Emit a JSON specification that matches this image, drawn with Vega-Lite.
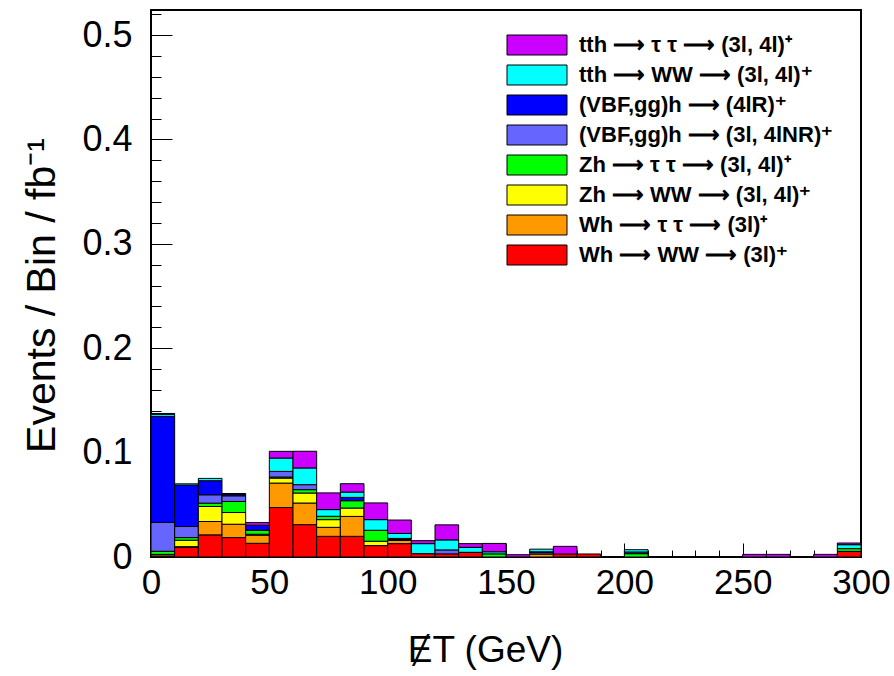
{
  "$schema": "https://vega.github.io/schema/vega-lite/v6.json",
  "width": 710,
  "height": 547,
  "autosize": {"type": "none"},
  "padding": {"left": 151, "top": 10, "right": 33, "bottom": 119},
  "background": "white",
  "config": {
    "view": {"stroke": "black", "strokeWidth": 2},
    "font": "Liberation Sans",
    "axis": {"labelColor": "black", "titleColor": "black", "tickColor": "black", "grid": false, "domain": false}
  },
  "data": {
    "values": [
      {"b": 0, "e": 10, "o": 1, "v": 0.001},
      {"b": 0, "e": 10, "o": 2, "v": 0.0015},
      {"b": 0, "e": 10, "o": 4, "v": 0.003},
      {"b": 0, "e": 10, "o": 5, "v": 0.0276},
      {"b": 0, "e": 10, "o": 6, "v": 0.1016},
      {"b": 0, "e": 10, "o": 7, "v": 0.002},
      {"b": 0, "e": 10, "o": 8, "v": 0.0008},
      {"b": 10, "e": 20, "o": 1, "v": 0.0094},
      {"b": 10, "e": 20, "o": 2, "v": 0.0005},
      {"b": 10, "e": 20, "o": 3, "v": 0.0062},
      {"b": 10, "e": 20, "o": 4, "v": 0.0025},
      {"b": 10, "e": 20, "o": 5, "v": 0.0106},
      {"b": 10, "e": 20, "o": 6, "v": 0.0397},
      {"b": 10, "e": 20, "o": 7, "v": 0.0012},
      {"b": 20, "e": 30, "o": 1, "v": 0.0212},
      {"b": 20, "e": 30, "o": 2, "v": 0.0128},
      {"b": 20, "e": 30, "o": 3, "v": 0.0144},
      {"b": 20, "e": 30, "o": 4, "v": 0.0032},
      {"b": 20, "e": 30, "o": 5, "v": 0.008},
      {"b": 20, "e": 30, "o": 6, "v": 0.0135},
      {"b": 20, "e": 30, "o": 7, "v": 0.0022},
      {"b": 30, "e": 40, "o": 1, "v": 0.0186},
      {"b": 30, "e": 40, "o": 2, "v": 0.0128},
      {"b": 30, "e": 40, "o": 3, "v": 0.0112},
      {"b": 30, "e": 40, "o": 4, "v": 0.0106},
      {"b": 30, "e": 40, "o": 5, "v": 0.0054},
      {"b": 30, "e": 40, "o": 6, "v": 0.0016},
      {"b": 30, "e": 40, "o": 8, "v": 0.0006},
      {"b": 40, "e": 50, "o": 1, "v": 0.0131},
      {"b": 40, "e": 50, "o": 2, "v": 0.0077},
      {"b": 40, "e": 50, "o": 3, "v": 0.001},
      {"b": 40, "e": 50, "o": 4, "v": 0.0038},
      {"b": 40, "e": 50, "o": 6, "v": 0.0048},
      {"b": 40, "e": 50, "o": 8, "v": 0.0026},
      {"b": 50, "e": 60, "o": 1, "v": 0.0474},
      {"b": 50, "e": 60, "o": 2, "v": 0.0234},
      {"b": 50, "e": 60, "o": 3, "v": 0.0048},
      {"b": 50, "e": 60, "o": 4, "v": 0.001},
      {"b": 50, "e": 60, "o": 5, "v": 0.0054},
      {"b": 50, "e": 60, "o": 7, "v": 0.0128},
      {"b": 50, "e": 60, "o": 8, "v": 0.0064},
      {"b": 60, "e": 70, "o": 1, "v": 0.031},
      {"b": 60, "e": 70, "o": 2, "v": 0.0207},
      {"b": 60, "e": 70, "o": 3, "v": 0.0096},
      {"b": 60, "e": 70, "o": 4, "v": 0.0032},
      {"b": 60, "e": 70, "o": 5, "v": 0.0048},
      {"b": 60, "e": 70, "o": 7, "v": 0.016},
      {"b": 60, "e": 70, "o": 8, "v": 0.016},
      {"b": 70, "e": 80, "o": 1, "v": 0.0198},
      {"b": 70, "e": 80, "o": 2, "v": 0.0086},
      {"b": 70, "e": 80, "o": 3, "v": 0.0074},
      {"b": 70, "e": 80, "o": 4, "v": 0.0032},
      {"b": 70, "e": 80, "o": 7, "v": 0.0064},
      {"b": 70, "e": 80, "o": 8, "v": 0.016},
      {"b": 80, "e": 90, "o": 1, "v": 0.0198},
      {"b": 80, "e": 90, "o": 2, "v": 0.0191},
      {"b": 80, "e": 90, "o": 3, "v": 0.008},
      {"b": 80, "e": 90, "o": 4, "v": 0.007},
      {"b": 80, "e": 90, "o": 6, "v": 0.0032},
      {"b": 80, "e": 90, "o": 7, "v": 0.0051},
      {"b": 80, "e": 90, "o": 8, "v": 0.008},
      {"b": 90, "e": 100, "o": 1, "v": 0.0109},
      {"b": 90, "e": 100, "o": 3, "v": 0.0042},
      {"b": 90, "e": 100, "o": 4, "v": 0.0105},
      {"b": 90, "e": 100, "o": 7, "v": 0.0102},
      {"b": 90, "e": 100, "o": 8, "v": 0.016},
      {"b": 100, "e": 110, "o": 1, "v": 0.0128},
      {"b": 100, "e": 110, "o": 2, "v": 0.003},
      {"b": 100, "e": 110, "o": 3, "v": 0.001},
      {"b": 100, "e": 110, "o": 4, "v": 0.001},
      {"b": 100, "e": 110, "o": 7, "v": 0.0048},
      {"b": 100, "e": 110, "o": 8, "v": 0.0128},
      {"b": 110, "e": 120, "o": 1, "v": 0.0032},
      {"b": 110, "e": 120, "o": 7, "v": 0.0096},
      {"b": 110, "e": 120, "o": 8, "v": 0.0029},
      {"b": 120, "e": 130, "o": 1, "v": 0.003},
      {"b": 120, "e": 130, "o": 5, "v": 0.0038},
      {"b": 120, "e": 130, "o": 7, "v": 0.0096},
      {"b": 120, "e": 130, "o": 8, "v": 0.0144},
      {"b": 130, "e": 140, "o": 1, "v": 0.0045},
      {"b": 130, "e": 140, "o": 7, "v": 0.0048},
      {"b": 130, "e": 140, "o": 8, "v": 0.0035},
      {"b": 140, "e": 150, "o": 4, "v": 0.003},
      {"b": 140, "e": 150, "o": 7, "v": 0.002},
      {"b": 140, "e": 150, "o": 8, "v": 0.008},
      {"b": 150, "e": 160, "o": 8, "v": 0.0022},
      {"b": 160, "e": 170, "o": 2, "v": 0.0028},
      {"b": 160, "e": 170, "o": 5, "v": 0.0014},
      {"b": 160, "e": 170, "o": 6, "v": 0.0008},
      {"b": 160, "e": 170, "o": 7, "v": 0.0025},
      {"b": 170, "e": 180, "o": 1, "v": 0.0029},
      {"b": 170, "e": 180, "o": 8, "v": 0.0073},
      {"b": 180, "e": 190, "o": 1, "v": 0.0029},
      {"b": 200, "e": 210, "o": 4, "v": 0.0032},
      {"b": 200, "e": 210, "o": 5, "v": 0.0016},
      {"b": 200, "e": 210, "o": 7, "v": 0.0022},
      {"b": 250, "e": 260, "o": 8, "v": 0.0025},
      {"b": 260, "e": 270, "o": 8, "v": 0.0025},
      {"b": 280, "e": 290, "o": 8, "v": 0.0025},
      {"b": 290, "e": 300, "o": 1, "v": 0.0054},
      {"b": 290, "e": 300, "o": 4, "v": 0.0026},
      {"b": 290, "e": 300, "o": 7, "v": 0.0038},
      {"b": 290, "e": 300, "o": 8, "v": 0.0016}
    ]
  },
  "transform": [
    {
      "lookup": "o",
      "from": {
        "data": {
          "values": [
            {"o": 1, "s": "Wh ⟶ WW ⟶ (3l)⁺"},
            {"o": 2, "s": "Wh ⟶ τ τ ⟶ (3l)⁺"},
            {"o": 3, "s": "Zh ⟶ WW ⟶ (3l, 4l)⁺"},
            {"o": 4, "s": "Zh ⟶ τ τ ⟶ (3l, 4l)⁺"},
            {"o": 5, "s": "(VBF,gg)h ⟶ (3l, 4lNR)⁺"},
            {"o": 6, "s": "(VBF,gg)h ⟶ (4lR)⁺"},
            {"o": 7, "s": "tth ⟶ WW ⟶ (3l, 4l)⁺"},
            {"o": 8, "s": "tth ⟶ τ τ ⟶ (3l, 4l)⁺"}
          ]
        },
        "key": "o",
        "fields": ["s"]
      }
    }
  ],
  "layer": [
    {
      "transform": [
        {"stack": "v", "groupby": ["b"], "sort": [{"field": "o", "order": "ascending"}], "as": ["y0", "y1"]}
      ],
      "mark": {"type": "rect", "stroke": "black", "strokeWidth": 1, "opacity": 1},
      "encoding": {
        "x": {
          "field": "b", "type": "quantitative",
          "scale": {"domain": [0, 300], "nice": false, "zero": false},
          "axis": {
            "orient": "bottom",
            "values": [0, 50, 100, 150, 200, 250, 300],
            "tickSize": -14, "tickWidth": 1,
            "labelFont": "Liberation Sans",
            "labelFontSize": 35, "labelPadding": 22,
            "labelFlush": false, "labelOverlap": false,
            "title": "ɆT  (GeV)",
            "titleFont": "Liberation Sans", "titleFontSize": 37, "titleFontWeight": "normal",
            "titlePadding": 32, "titleX": 334
          }
        },
        "x2": {"field": "e"},
        "y": {
          "field": "y0", "type": "quantitative",
          "scale": {"domain": [0, 0.524], "nice": false},
          "axis": {
            "orient": "left",
            "values": [0, 0.1, 0.2, 0.3, 0.4, 0.5],
            "tickSize": -21, "tickWidth": 1,
            "labelExpr": "datum.value == 0 ? '0' : format(datum.value, '.1f')",
            "labelFontSize": 36, "labelPadding": 40,
            "labelFlush": false, "labelOverlap": false,
            "title": "Events  /  Bin  /  fb⁻¹",
            "titleFontSize": 41, "titleFontWeight": "normal",
            "titlePadding": 18, "titleY": 285
          }
        },
        "y2": {"field": "y1"},
        "color": {
          "field": "s", "type": "nominal",
          "scale": {
            "domain": [
              "tth ⟶ τ τ ⟶ (3l, 4l)⁺",
              "tth ⟶ WW ⟶ (3l, 4l)⁺",
              "(VBF,gg)h ⟶ (4lR)⁺",
              "(VBF,gg)h ⟶ (3l, 4lNR)⁺",
              "Zh ⟶ τ τ ⟶ (3l, 4l)⁺",
              "Zh ⟶ WW ⟶ (3l, 4l)⁺",
              "Wh ⟶ τ τ ⟶ (3l)⁺",
              "Wh ⟶ WW ⟶ (3l)⁺"
            ],
            "range": ["#cc00ff", "#00ffff", "#0000ff", "#6666ff", "#00ff00", "#ffff00", "#ff9900", "#ff0000"]
          },
          "legend": {
            "title": null,
            "orient": "none",
            "legendX": 375,
            "legendY": 24,
            "padding": 0,
            "symbolType": "M-3,-1H3V1H-3Z",
            "symbolSize": 400,
            "symbolStrokeColor": "black",
            "symbolStrokeWidth": 1,
            "symbolOpacity": 1,
            "labelFont": "Liberation Sans",
            "labelFontSize": 22,
            "labelFontWeight": "bold",
            "labelColor": "black",
            "labelOffset": 31,
            "labelLimit": 0,
            "rowPadding": 6
          }
        }
      }
    },
    {
      "mark": {"type": "point", "opacity": 0},
      "encoding": {
        "x": {
          "field": "b", "type": "quantitative",
          "scale": {"domain": [0, 300], "nice": false, "zero": false},
          "axis": {
            "orient": "bottom",
            "values": [10, 20, 30, 40, 60, 70, 80, 90, 110, 120, 130, 140, 160, 170, 180, 190, 210, 220, 230, 240, 260, 270, 280, 290],
            "tickSize": -7, "tickWidth": 1, "labels": false, "title": null
          }
        },
        "y": {
          "field": "v", "type": "quantitative",
          "scale": {"domain": [0, 0.524], "nice": false},
          "axis": {
            "orient": "left",
            "values": [0.02, 0.04, 0.06, 0.08, 0.12, 0.14, 0.16, 0.18, 0.22, 0.24, 0.26, 0.28, 0.32, 0.34, 0.36, 0.38, 0.42, 0.44, 0.46, 0.48, 0.52],
            "tickSize": -10, "tickWidth": 1, "labels": false, "title": null
          }
        }
      }
    }
  ],
  "resolve": {"axis": {"x": "independent", "y": "independent"}}
}
